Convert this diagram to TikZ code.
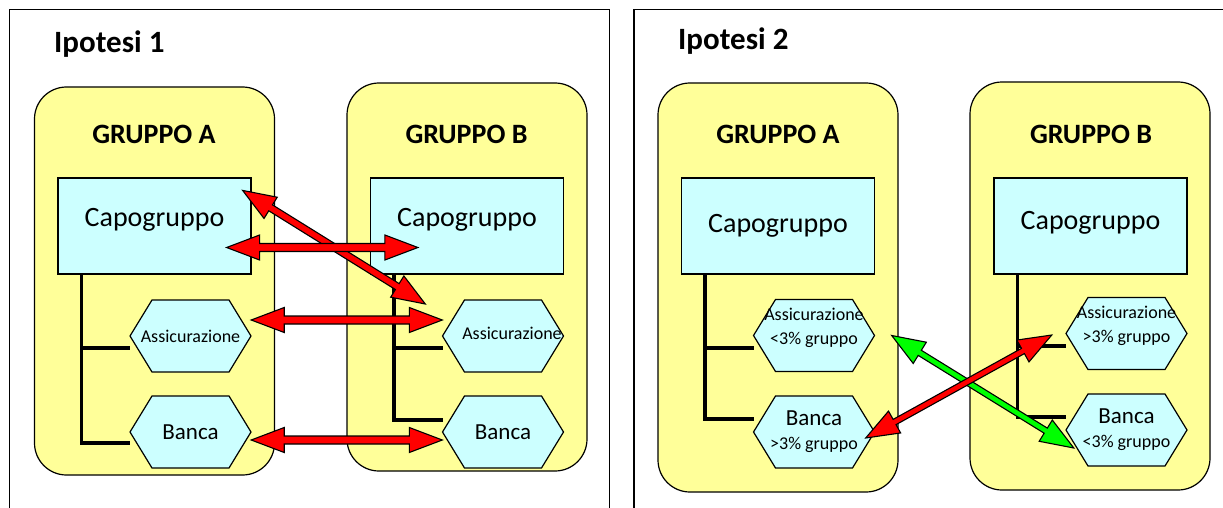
\documentclass[tikz,border=0pt]{standalone}
\usepackage{fontspec}
\setmainfont{Carlito}
\usetikzlibrary{calc}
\definecolor{grpyellow}{HTML}{FFFF99}
\definecolor{boxcyan}{HTML}{CCFFFF}
\definecolor{arrred}{HTML}{FF0000}
\definecolor{arrgreen}{HTML}{00FF00}
\tikzstyle{panelframe} = [line width=1.3pt]
\tikzstyle{paneltitle} = [anchor=base west, inner sep=0pt, font=\fontsize{31}{36}\selectfont\bfseries]
\tikzstyle{groupbox} = [draw, line width=1.2pt, fill=grpyellow, rounded corners=32pt, minimum width=240pt]
\tikzstyle{grouptitle} = [anchor=base, inner sep=0pt, font=\fontsize{28}{34}\selectfont\bfseries]
\tikzstyle{capbox} = [draw, line width=1.2pt, fill=boxcyan, minimum width=193pt, minimum height=96pt, text height=20pt, text depth=20pt, font=\fontsize{28}{34}\selectfont]
\tikzstyle{hexshape} = [draw, line width=1.2pt, fill=boxcyan, line join=miter]
\tikzstyle{hexanchor} = [minimum width=121pt, minimum height=72pt, inner sep=0pt]
\tikzstyle{hexlabel} = [align=center, inner sep=0pt, font=\fontsize{18}{24}\selectfont]
\tikzstyle{treeline} = [line width=3.5pt]
\tikzstyle{arrowline} = [draw=black, line width=1.1pt, line join=miter]

% hexagon with a named node on it: [label opts]{name}{x}{y}{text}
\newcommand{\hexa}[5][]{%
  \filldraw[hexshape] (#3-60.5,#4) -- (#3-38.5,#4-36) -- (#3+38.5,#4-36) -- (#3+60.5,#4) -- (#3+38.5,#4+36) -- (#3-38.5,#4+36) -- cycle;
  \node[hexanchor] (#2) at (#3,#4) {};
  \node[hexlabel,#1] (#2t) at (#3,#4) {#5};
}
% block arrow with two heads: {from}{to}{colour}{half shaft}
\newcommand{\dblarrow}[4]{%
  \coordinate (ah1) at ($(#1)!33pt!(#2)$);
  \coordinate (ah2) at ($(#2)!33pt!(#1)$);
  \filldraw[arrowline, fill=#3] (#1) -- ($(ah1)!12.5pt!90:(#2)$) -- ($(ah1)!#4!90:(#2)$) -- ($(ah2)!#4!90:(#2)$) -- ($(ah2)!12.5pt!90:(#2)$) -- (#2) -- ($(ah2)!12.5pt!-90:(#2)$) -- ($(ah2)!#4!-90:(#2)$) -- ($(ah1)!#4!-90:(#2)$) -- ($(ah1)!12.5pt!-90:(#2)$) -- cycle;
}

\begin{document}
\begin{tikzpicture}[x=1pt, y=-1pt]
        \useasboundingbox (0,0) rectangle (1223,508);

        % Panels
        \draw[panelframe] (9.5,512) -- (9.5,9.5) -- (609.5,9.5) -- (609.5,512);
        \draw[panelframe] (634,512) -- (634,9.5) -- (1226,9.5);
        \node[paneltitle] (ttl1) at (54,53) {Ipotesi 1};
        \node[paneltitle] (ttl2) at (678,50) {Ipotesi 2};

        % Ipotesi 1
        \node[groupbox, minimum height=388pt] (grpA1) at (154.5,281) {};
        \node[groupbox, minimum height=388pt] (grpB1) at (467,277) {};
        \node[grouptitle] (gtA1) at (154,143) {GRUPPO A};
        \node[grouptitle] (gtB1) at (466.5,143) {GRUPPO B};
        \node[capbox] (capA1) at (154.5,226) {Capogruppo\hspace{9pt}};
        \node[capbox] (capB1) at (467,226) {Capogruppo\hspace{9pt}};

        \draw[treeline] ([xshift=24pt]capA1.south west) |- (130,348);
        \draw[treeline] ([xshift=24pt]capA1.south west) |- (130,443);
        \draw[treeline] ([xshift=24pt]capB1.south west) |- (442.5,348);
        \draw[treeline] ([xshift=24pt]capB1.south west) |- (442.5,420);

        \hexa{assA1}{190.5}{336}{Assicurazione}
        \hexa[font=\fontsize{23}{28}\selectfont]{banA1}{190.5}{432}{Banca}
        \hexa[xshift=9pt, yshift=3pt]{assB1}{503}{336}{Assicurazione}
        \hexa[font=\fontsize{23}{28}\selectfont]{banB1}{503}{432}{Banca}

        \coordinate (d1s) at ([xshift=-9pt,yshift=-13pt]capA1.north east);
        \coordinate (d1e) at ([xshift=-17pt,yshift=32pt]assB1.west);
        \coordinate (h2s) at ([xshift=-25pt,yshift=-21.5pt]capA1.east);
        \coordinate (h2e) at ([xshift=48pt,yshift=-21.5pt]capB1.west);
        \coordinate (h3s) at ([yshift=16pt]assA1.east);
        \coordinate (h3e) at ([yshift=16pt]assB1.west);
        \coordinate (h4s) at ([yshift=-8pt]banA1.east);
        \coordinate (h4e) at ([yshift=-8pt]banB1.west);
        \dblarrow{d1s}{d1e}{arrred}{3.5pt}
        \dblarrow{h2s}{h2e}{arrred}{4pt}
        \dblarrow{h3s}{h3e}{arrred}{4pt}
        \dblarrow{h4s}{h4e}{arrred}{4pt}

        % Ipotesi 2
        \node[groupbox, minimum height=409pt] (grpA2) at (778,287.5) {};
        \node[groupbox, minimum height=408pt] (grpB2) at (1090,286) {};
        \node[grouptitle] (gtA2) at (778,143) {GRUPPO A};
        \node[grouptitle] (gtB2) at (1091,143) {GRUPPO B};
        \node[capbox, text height=26pt, text depth=14pt] (capA2) at (778,226) {Capogruppo\hspace{7pt}};
        \node[capbox, text height=23pt, text depth=17pt] (capB2) at (1090.5,226) {Capogruppo\hspace{8pt}};

        \draw[treeline] ([xshift=24pt]capA2.south west) |- (754,348);
        \draw[treeline] ([xshift=24pt]capA2.south west) |- (754,419);
        \draw[treeline] ([xshift=24pt]capB2.south west) |- (1066,346);
        \draw[treeline] ([xshift=24pt]capB2.south west) |- (1066,417);

        \hexa[yshift=7.5pt]{assA2}{814}{335.5}{Assicurazione\\<3\% gruppo}
        \hexa{banA2}{814}{432}{{\fontsize{23}{25}\selectfont Banca}\\>3\% gruppo}
        \hexa[yshift=7.5pt]{assB2}{1126.5}{333.5}{Assicurazione\\>3\% gruppo}
        \hexa{banB2}{1126.5}{430}{{\fontsize{23}{25}\selectfont Banca}\\<3\% gruppo}

        \coordinate (gs) at ([xshift=17pt]assA2.east);
        \coordinate (ge) at ([xshift=8pt,yshift=-18pt]banB2.west);
        \coordinate (rs) at ([xshift=-9pt,yshift=-6pt]banA2.east);
        \coordinate (re) at ([xshift=-14pt,yshift=-1.5pt]assB2.west);
        \dblarrow{gs}{ge}{arrgreen}{3pt}
        \dblarrow{rs}{re}{arrred}{3pt}
\end{tikzpicture}
\end{document}
